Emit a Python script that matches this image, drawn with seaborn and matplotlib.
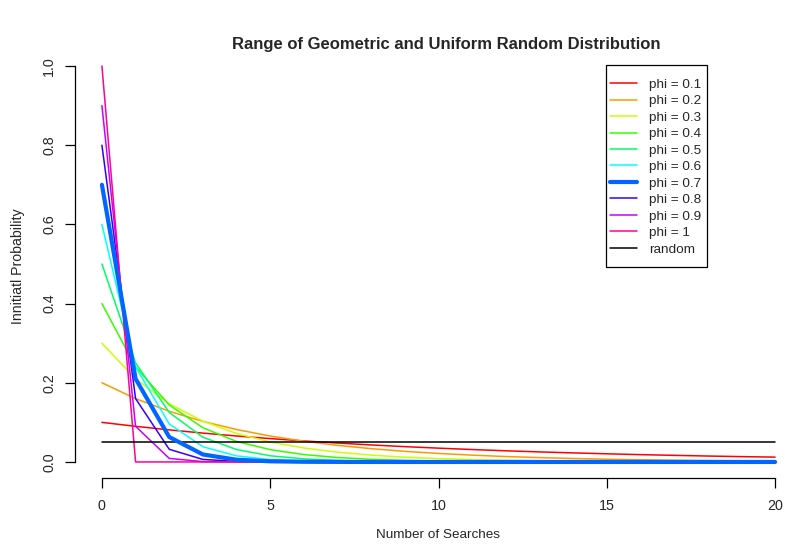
import matplotlib
matplotlib.use("Agg")
import matplotlib.pyplot as plt
from matplotlib.patches import Rectangle
import seaborn as sns
import pandas as pd

sns.set_style("ticks")
plt.rcParams['font.family'] = ['Liberation Sans', 'DejaVu Sans']

searches = list(range(0, 21))

phi_01 = [0.1, 0.09, 0.081, 0.0729, 0.0656, 0.059, 0.0531, 0.0478, 0.043, 0.0387, 0.0349,
          0.0314, 0.0282, 0.0254, 0.0229, 0.0206, 0.0185, 0.0167, 0.015, 0.0135, 0.0122]
phi_02 = [0.2, 0.16, 0.128, 0.1024, 0.0819, 0.0655, 0.0524, 0.0419, 0.0336, 0.0268, 0.0215,
          0.0172, 0.0137, 0.011, 0.0088, 0.007, 0.0056, 0.0045, 0.0036, 0.0029, 0.0023]
phi_03 = [0.3, 0.21, 0.147, 0.1029, 0.072, 0.0504, 0.0353, 0.0247, 0.0173, 0.0121, 0.0085,
          0.0059, 0.0042, 0.0029, 0.002, 0.0014, 0.001, 0.0007, 0.0005, 0.0003, 0.0002]
phi_04 = [0.4, 0.24, 0.144, 0.0864, 0.0518, 0.0311, 0.0187, 0.0112, 0.0067, 0.004, 0.0024,
          0.0015, 0.0009, 0.0005, 0.0003, 0.0002, 0.0001, 0.0001, 0.0, 0.0, 0.0]
phi_05 = [0.5, 0.25, 0.125, 0.0625, 0.0313, 0.0156, 0.0078, 0.0039, 0.002, 0.001, 0.0005,
          0.0002, 0.0001, 0.0001, 0.0, 0.0, 0.0, 0.0, 0.0, 0.0, 0.0]
phi_06 = [0.6, 0.24, 0.096, 0.0384, 0.0154, 0.0061, 0.0025, 0.001, 0.0004, 0.0002, 0.0001,
          0.0, 0.0, 0.0, 0.0, 0.0, 0.0, 0.0, 0.0, 0.0, 0.0]
phi_07 = [0.7, 0.21, 0.063, 0.0189, 0.0057, 0.0017, 0.0005, 0.0002, 0.0, 0.0, 0.0,
          0.0, 0.0, 0.0, 0.0, 0.0, 0.0, 0.0, 0.0, 0.0, 0.0]
phi_08 = [0.8, 0.16, 0.032, 0.0064, 0.0013, 0.0003, 0.0001, 0.0, 0.0, 0.0, 0.0,
          0.0, 0.0, 0.0, 0.0, 0.0, 0.0, 0.0, 0.0, 0.0, 0.0]
phi_09 = [0.9, 0.09, 0.009, 0.0009, 0.0001, 0.0, 0.0, 0.0, 0.0, 0.0, 0.0,
          0.0, 0.0, 0.0, 0.0, 0.0, 0.0, 0.0, 0.0, 0.0, 0.0]
phi_10 = [1.0, 0.0, 0.0, 0.0, 0.0, 0.0, 0.0, 0.0, 0.0, 0.0, 0.0,
          0.0, 0.0, 0.0, 0.0, 0.0, 0.0, 0.0, 0.0, 0.0, 0.0]
random_vals = [0.05] * 21

series_labels = ["phi = 0.1", "phi = 0.2", "phi = 0.3", "phi = 0.4", "phi = 0.5",
                 "phi = 0.6", "phi = 0.7", "phi = 0.8", "phi = 0.9", "phi = 1", "random"]
series_values = [phi_01, phi_02, phi_03, phi_04, phi_05, phi_06, phi_07, phi_08,
                 phi_09, phi_10, random_vals]
colors = ["#FF0000", "#FF9900", "#CCFF00", "#33FF00", "#00FF66", "#00FFFF",
          "#0066FF", "#3300FF", "#CC00FF", "#FF0099", "#000000"]

W, H = 790, 545
fig = plt.figure(figsize=(7.9, 5.45), dpi=100)
ax = fig.add_axes([75 / W, 1 - 477.8 / H, 727 / W, (477.8 - 50.2) / H])

for lab, vals, col in zip(series_labels, series_values, colors):
    thick = lab == "phi = 0.7"
    df = pd.DataFrame({"x": searches, "y": vals})
    sns.lineplot(data=df, x="x", y="y", color=col, lw=3.0 if thick else 1.1,
                 label=lab, ax=ax, zorder=3 if thick else 2, legend=False)

ax.set_xlim(-0.8, 20.8)
ax.set_ylim(-0.04, 1.04)
ax.set_xticks([0, 5, 10, 15, 20])
ax.set_xticklabels(["0", "5", "10", "15", "20"])
ax.set_yticks([0.0, 0.2, 0.4, 0.6, 0.8, 1.0])
ax.set_yticklabels(["0.0", "0.2", "0.4", "0.6", "0.8", "1.0"], rotation=90, va="center")
ax.tick_params(axis="both", length=7.5, width=0.9, labelsize=10.3, color="black", pad=6)
ax.tick_params(axis="x", pad=8)

for s in ["top", "right"]:
    ax.spines[s].set_visible(False)
ax.spines["left"].set_bounds(0, 1)
ax.spines["bottom"].set_bounds(0, 20)
for s in ["left", "bottom"]:
    ax.spines[s].set_color("black")
    ax.spines[s].set_linewidth(0.9)

ax.set_xlabel("")
ax.set_ylabel("")
fig.text(438 / W, 1 - 535 / H, "Number of Searches", ha="center", va="center", fontsize=9.7)
fig.text(18 / W, 1 - 266 / H, "Innitiatl Probability", ha="center", va="center",
         rotation=90, fontsize=10.2)
fig.text(446 / W, 1 - 45 / H, "Range of Geometric and Uniform Random Distribution",
         ha="center", va="center", fontsize=12, fontweight="bold")

handles, labels = ax.get_legend_handles_labels()
leg = ax.legend(handles, labels, loc="upper left",
                bbox_to_anchor=(603 / W, 1 - 71 / H), bbox_transform=fig.transFigure,
                fontsize=9.7, frameon=False,
                handlelength=2.0, handletextpad=0.9, labelspacing=0.3,
                borderpad=0.55, borderaxespad=0)
# legend box as in the reference
fig.patches.append(Rectangle((606 / W, 1 - 267 / H), (707 - 606) / W, (267 - 65) / H,
                             transform=fig.transFigure, fill=False, edgecolor="black",
                             linewidth=0.9, zorder=5))

fig.savefig("out.png", dpi=100)
